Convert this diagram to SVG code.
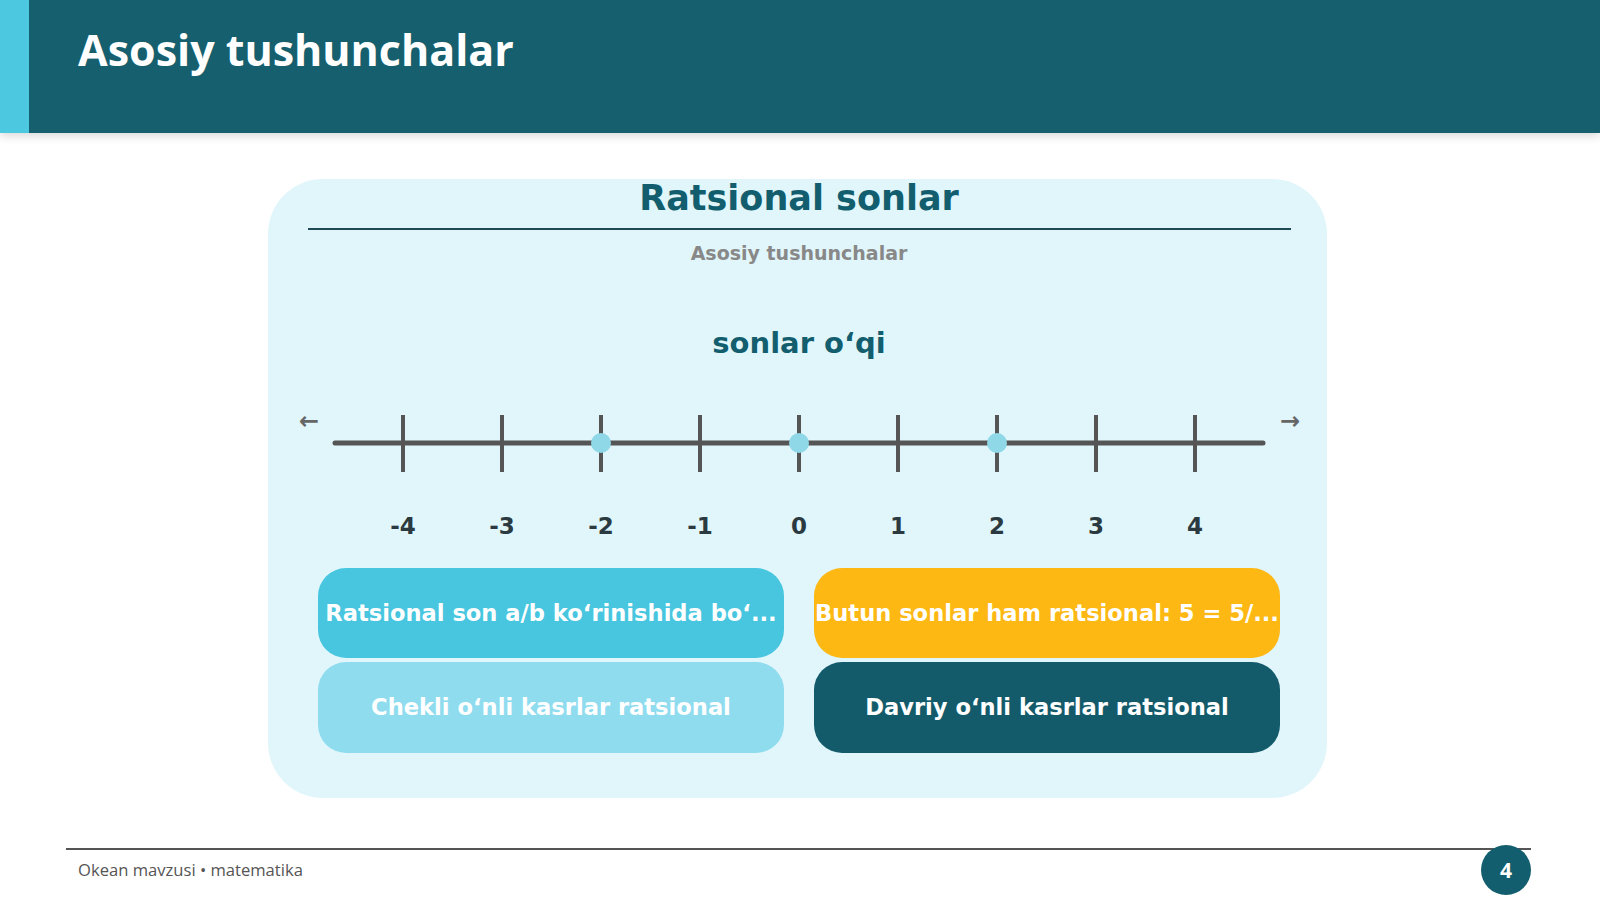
<svg xmlns="http://www.w3.org/2000/svg" width="1600" height="899" viewBox="0 0 1600 899">
<defs>
<style>
.d{font-family:"DejaVu Sans",sans-serif;font-weight:bold}
.lbl{font-family:"DejaVu Sans",sans-serif;font-weight:bold;font-size:23px;fill:#2a3a40;text-anchor:middle}
.tick{stroke:#555;stroke-width:4}
.dot{fill:#8fd8e8}
.bt{font-family:"DejaVu Sans",sans-serif;font-weight:bold;font-size:22.6px;fill:#fff;text-anchor:middle}
</style>
<filter id="sh" x="-10%" y="-10%" width="120%" height="130%"><feDropShadow dx="0" dy="3" stdDeviation="5" flood-opacity="0.15"/></filter>
</defs>
<rect width="1600" height="899" fill="#fff"/>
<g id="header">
<rect x="0" y="0" width="1600" height="133" fill="#135e6e" filter="url(#sh)"/>
<rect x="0" y="0" width="29" height="133" fill="#4cc9e0"/>
<text x="78" y="66" font-family="'Open Sans',sans-serif" font-weight="bold" font-size="43" fill="#fff">Asosiy tushunchalar</text>
</g>
<g id="panel">
<rect x="268" y="179" width="1059" height="619" rx="55" fill="#e0f6fb"/>
<text x="799" y="210" class="d" font-size="35" fill="#135e6e" text-anchor="middle">Ratsional sonlar</text>
<line x1="308" y1="229" x2="1291" y2="229" stroke="#1f4a55" stroke-width="2"/>
<text x="799" y="260" class="d" font-size="19" fill="#888" text-anchor="middle">Asosiy tushunchalar</text>
<text x="799" y="353" class="d" font-size="29" fill="#135e6e" text-anchor="middle">sonlar o‘qi</text>
</g>
<g id="numberline">
<line x1="335" y1="443" x2="1263" y2="443" stroke="#555" stroke-width="5" stroke-linecap="round"/>
<text x="309" y="429" font-family="'DejaVu Sans',sans-serif" font-weight="bold" font-size="24" fill="#666" text-anchor="middle">←</text>
<text x="1290" y="429" font-family="'DejaVu Sans',sans-serif" font-weight="bold" font-size="24" fill="#666" text-anchor="middle">→</text>
<g>
<line class="tick" x1="403" y1="415" x2="403" y2="472"/>
<line class="tick" x1="502" y1="415" x2="502" y2="472"/>
<line class="tick" x1="601" y1="415" x2="601" y2="472"/>
<line class="tick" x1="700" y1="415" x2="700" y2="472"/>
<line class="tick" x1="799" y1="415" x2="799" y2="472"/>
<line class="tick" x1="898" y1="415" x2="898" y2="472"/>
<line class="tick" x1="997" y1="415" x2="997" y2="472"/>
<line class="tick" x1="1096" y1="415" x2="1096" y2="472"/>
<line class="tick" x1="1195" y1="415" x2="1195" y2="472"/>
</g>
<circle class="dot" cx="601" cy="443" r="10"/>
<circle class="dot" cx="799" cy="443" r="10"/>
<circle class="dot" cx="997" cy="443" r="10"/>
<text class="lbl" x="403" y="534">-4</text>
<text class="lbl" x="502" y="534">-3</text>
<text class="lbl" x="601" y="534">-2</text>
<text class="lbl" x="700" y="534">-1</text>
<text class="lbl" x="799" y="534">0</text>
<text class="lbl" x="898" y="534">1</text>
<text class="lbl" x="997" y="534">2</text>
<text class="lbl" x="1096" y="534">3</text>
<text class="lbl" x="1195" y="534">4</text>
</g>
<g id="box1"><rect x="318" y="568" width="466" height="90" rx="28" fill="#48c6e0"/><text class="bt" x="551" y="621">Ratsional son a/b ko‘rinishida bo‘...</text></g>
<g id="box2"><rect x="814" y="568" width="466" height="90" rx="28" fill="#fdb813"/><text class="bt" x="1047" y="621">Butun sonlar ham ratsional: 5 = 5/...</text></g>
<g id="box3"><rect x="318" y="662" width="466" height="91" rx="28" fill="#90dcef"/><text class="bt" x="551" y="715">Chekli o‘nli kasrlar ratsional</text></g>
<g id="box4"><rect x="814" y="662" width="466" height="91" rx="28" fill="#135b6b"/><text class="bt" x="1047" y="715">Davriy o‘nli kasrlar ratsional</text></g>
<g id="connectors"></g>
<g id="footer">
<line x1="66" y1="849" x2="1531" y2="849" stroke="#555" stroke-width="2"/>
<text x="78" y="876" font-family="'Open Sans',sans-serif" font-size="16.6" fill="#555">Okean mavzusi • matematika</text>
<circle cx="1506" cy="870" r="25" fill="#135e6e"/>
<text x="1506" y="878" font-family="'Open Sans',sans-serif" font-weight="bold" font-size="21" fill="#fff" text-anchor="middle">4</text>
</g>
</svg>
